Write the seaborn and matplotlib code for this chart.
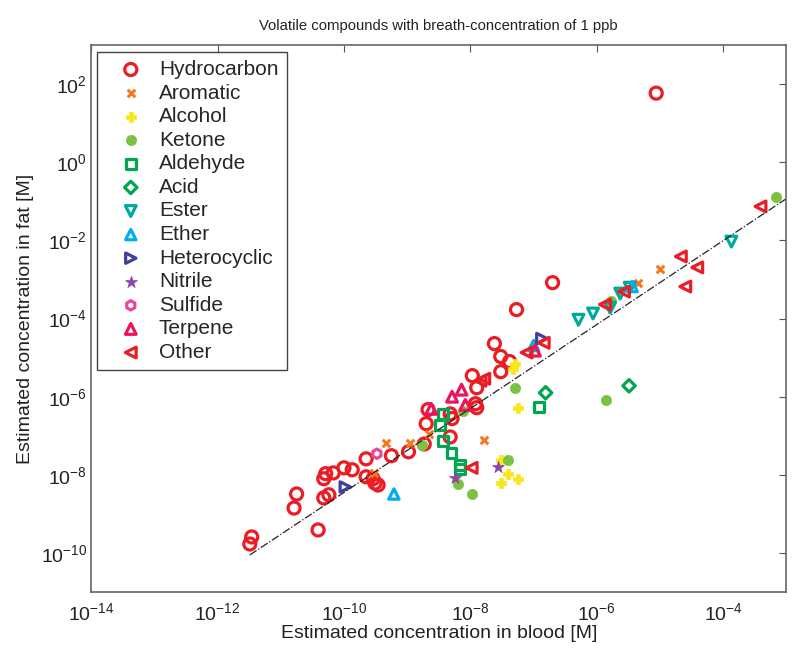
import numpy as np
import pandas as pd
import matplotlib
matplotlib.use("Agg")
import matplotlib.pyplot as plt
import seaborn as sns

# log10 of estimated concentrations (blood, fat) per compound class
hydrocarbon_blood = [-11.46, -11.49, -10.75, -10.79, -10.41, -10.32, -10.29, -10.17, -10.0, -9.87,
                     -10.32, -10.24, -9.65, -9.65, -9.54, -9.51, -9.46, -9.25, -8.98, -8.67,
                     -8.70, -8.73, -8.32, -8.29, -8.32, -7.97, -7.90, -7.92, -7.90, -7.62,
                     -7.52, -7.38, -7.52, -7.27, -6.70, -5.06]
hydrocarbon_fat = [-9.59, -9.77, -8.49, -8.85, -9.41, -8.10, -7.97, -7.95, -7.82, -7.87,
                   -8.59, -8.51, -7.59, -8.05, -8.10, -8.21, -8.26, -7.51, -7.41, -6.33,
                   -6.69, -7.21, -6.44, -6.56, -7.03, -5.46, -5.77, -6.18, -6.28, -4.64,
                   -4.97, -5.10, -5.36, -3.77, -3.08, 1.77]
aromatic_blood = [-9.33, -8.95, -9.52, -8.65, -7.78, -5.35, -5.00]
aromatic_fat = [-7.18, -7.18, -7.95, -6.95, -7.10, -3.08, -2.74]
alcohol_blood = [-7.30, -7.32, -7.25, -7.51, -7.40, -7.51, -7.24]
alcohol_fat = [-5.15, -5.28, -6.28, -7.62, -7.97, -8.21, -8.10]
ketone_blood = [-8.76, -8.11, -7.29, -7.40, -8.19, -7.98, -5.86, -5.78, -3.17]
ketone_fat = [-7.23, -6.36, -5.77, -7.62, -8.23, -8.49, -6.08, -3.54, -0.90]
aldehyde_blood = [-8.43, -8.48, -8.44, -8.30, -8.16, -8.16, -6.92]
aldehyde_fat = [-6.44, -6.72, -7.13, -7.44, -7.74, -7.85, -6.26]
acid_blood = [-6.81, -5.49]
acid_fat = [-5.90, -5.72]
ester_blood = [-6.29, -6.06, -5.79, -5.63, -5.48, -3.87]
ester_fat = [-4.03, -3.87, -3.72, -3.36, -3.21, -2.03]
ether_blood = [-9.21, -7.00, -5.44]
ether_fat = [-8.49, -4.69, -3.18]
heterocyclic_blood = [-9.98, -6.87]
heterocyclic_fat = [-8.31, -4.51]
nitrile_blood = [-7.56, -8.25]
nitrile_fat = [-7.79, -8.08]
sulfide_blood = [-9.48]
sulfide_fat = [-7.46]
terpene_blood = [-8.62, -8.29, -8.14, -8.08, -6.98]
terpene_fat = [-6.31, -6.00, -5.82, -6.21, -4.82]
other_blood = [-7.78, -7.84, -7.11, -7.98, -6.84, -3.41, -4.67, -4.41, -4.60, -5.57, -5.87]
other_fat = [-5.54, -5.59, -4.87, -7.82, -4.62, -1.13, -2.41, -2.69, -3.18, -3.31, -3.64]

# dash-dot reference line (log10 endpoints)
line_blood = [-11.49, -3.0]
line_fat = [-10.05, -0.93]

x_ticks = [-14, -12, -10, -8, -6, -4]
y_ticks = [-10, -8, -6, -4, -2, 0, 2]

classes = [
    # name, blood, fat, marker, colour, hollow, size
    ("Hydrocarbon", hydrocarbon_blood, hydrocarbon_fat, "o", "#ec1c24", True, 75),
    ("Aromatic", aromatic_blood, aromatic_fat, "x", "#f47a20", False, 30),
    ("Alcohol", alcohol_blood, alcohol_fat, "P", "#f7e81c", False, 55),
    ("Ketone", ketone_blood, ketone_fat, "o", "#7cc242", False, 55),
    ("Aldehyde", aldehyde_blood, aldehyde_fat, "s", "#00a651", True, 50),
    ("Acid", acid_blood, acid_fat, "D", "#00a651", True, 40),
    ("Ester", ester_blood, ester_fat, "v", "#00a99d", True, 60),
    ("Ether", ether_blood, ether_fat, "^", "#00aeef", True, 55),
    ("Heterocyclic", heterocyclic_blood, heterocyclic_fat, ">", "#3f3f9f", True, 55),
    ("Nitrile", nitrile_blood, nitrile_fat, "*", "#8e44a8", False, 80),
    ("Sulfide", sulfide_blood, sulfide_fat, "h", "#e6499b", True, 45),
    ("Terpene", terpene_blood, terpene_fat, "^", "#ec145a", True, 60),
    ("Other", other_blood, other_fat, "<", "#ec1c24", True, 60),
]

sns.set_style("white")
plt.rcParams["font.family"] = ["Liberation Sans", "DejaVu Sans"]
plt.rcParams["mathtext.fontset"] = "custom"
plt.rcParams["mathtext.rm"] = "Liberation Sans"

fig = plt.figure(figsize=(8, 6.63), dpi=100)
ax = fig.add_axes([0.114, 0.107, 0.869, 0.825])

for name, bx, fy, marker, col, hollow, size in classes:
    df = pd.DataFrame({"blood": 10.0 ** np.array(bx), "fat": 10.0 ** np.array(fy)})
    if hollow:
        sns.scatterplot(data=df, x="blood", y="fat", ax=ax, marker=marker, s=size,
                        facecolor="none", edgecolor=col, linewidth=2.3, label=name)
    elif marker == "x":
        sns.scatterplot(data=df, x="blood", y="fat", ax=ax, marker=marker, s=size,
                        color=col, linewidth=2.2, label=name)
    else:
        sns.scatterplot(data=df, x="blood", y="fat", ax=ax, marker=marker, s=size,
                        color=col, edgecolor=col, linewidth=0.5, label=name)

line_df = pd.DataFrame({"blood": 10.0 ** np.array(line_blood), "fat": 10.0 ** np.array(line_fat)})
sns.lineplot(data=line_df, x="blood", y="fat", ax=ax, color="#222222", linestyle="-.",
             linewidth=0.9, legend=False)

ax.set_xscale("log")
ax.set_yscale("log")
ax.set_xlim(1e-14, 1e-3)
ax.set_ylim(1e-11, 1e3)
ax.set_xticks([10.0 ** t for t in x_ticks])
ax.set_yticks([10.0 ** t for t in y_ticks])
ax.minorticks_off()
ax.tick_params(which="both", direction="in", top=True, right=True, length=5,
               color="#555555", labelsize=14, labelcolor="#222222")
ax.tick_params(axis="x", pad=7)
ax.tick_params(axis="y", pad=3)
for sp in ax.spines.values():
    sp.set_color("#666666")
    sp.set_linewidth(1.2)

ax.set_xlabel("Estimated concentration in blood [M]", fontsize=14, color="#222222", labelpad=1)
ax.set_ylabel("Estimated concentration in fat [M]", fontsize=14, color="#222222", labelpad=5)
ax.set_title("Volatile compounds with breath-concentration of 1 ppb", fontsize=10.7,
             color="#222222", pad=11)

leg = ax.legend(loc="upper left", bbox_to_anchor=(0.009, 0.988), fontsize=15, frameon=True,
                fancybox=False, framealpha=1, edgecolor="#444444", borderpad=0.4,
                labelspacing=0.22, handletextpad=0.15, borderaxespad=0, handlelength=2.4)
leg.get_frame().set_linewidth(1.0)

fig.savefig("out.png", dpi=100)
